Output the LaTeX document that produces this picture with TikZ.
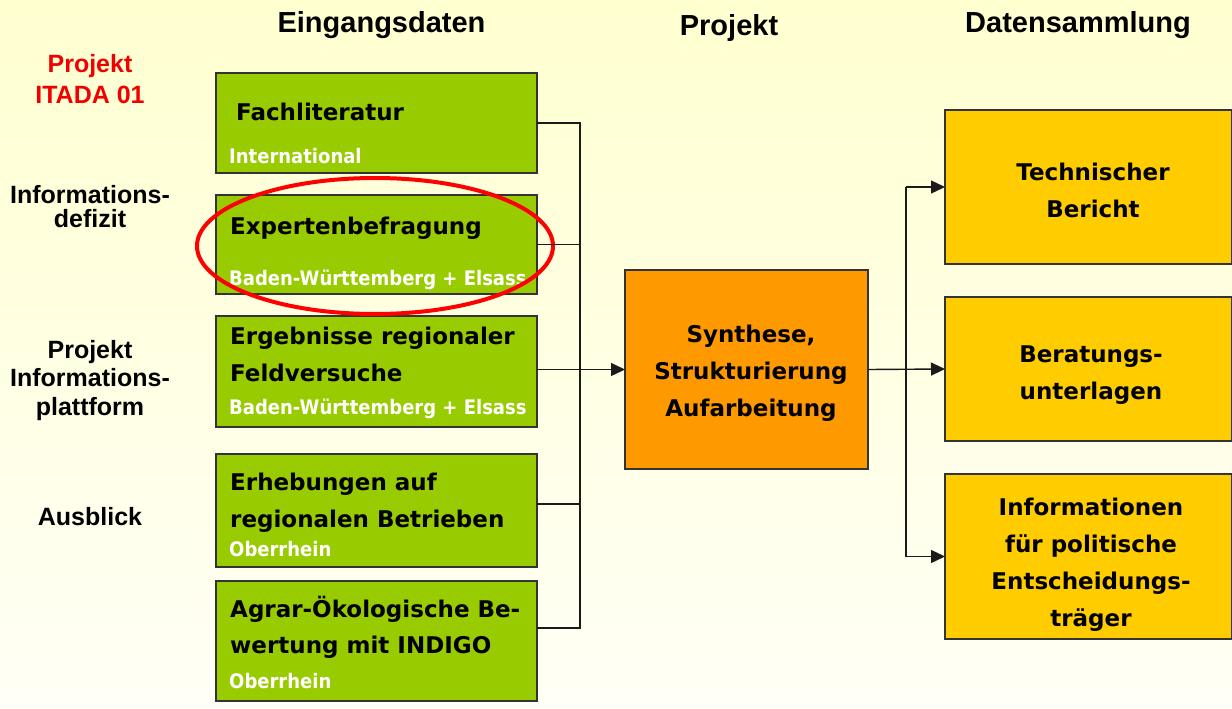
\documentclass[tikz,border=0pt]{standalone}
\usepackage{fontspec}
\setmainfont{Liberation Sans}
\newfontfamily\vfont{DejaVu Sans}
\newfontfamily\vsubfont{DejaVu Sans}[FakeStretch=0.9]
\usetikzlibrary{arrows.meta,calc}
\definecolor{bgtop}{HTML}{FFFFD0}
\definecolor{bgbot}{HTML}{FFFFF6}
\definecolor{gfill}{HTML}{99CC00}
\definecolor{ofill}{HTML}{FF9900}
\definecolor{yfill}{HTML}{FFCC00}
\definecolor{edge}{HTML}{333333}
\definecolor{wire}{HTML}{1A1A1A}
\definecolor{itred}{HTML}{F20000}
\begin{document}
\begin{tikzpicture}[x=1pt,y=-1pt,
  box/.style={draw=edge, line width=1.5pt, inner sep=0pt, outer sep=0pt},
  gbox/.style={box, fill=gfill, minimum width=321pt},
  ybox/.style={box, fill=yfill, minimum width=287pt},
  obox/.style={box, fill=ofill, minimum width=243pt, minimum height=199pt},
  maintxt/.style={inner sep=0pt, font=\vfont\bfseries\fontsize{23}{37}\selectfont},
  gtxt/.style={maintxt, anchor=base west},
  subtxt/.style={inner sep=0pt, anchor=base west, text=white, font=\vsubfont\bfseries\fontsize{20}{24}\selectfont},
  ctxt/.style={maintxt, align=center},
  head/.style={inner sep=0pt, anchor=base, font=\bfseries\fontsize{29}{34}\selectfont},
  side/.style={inner sep=0pt, anchor=base, font=\bfseries\fontsize{25}{28}\selectfont},
  conn/.style={draw=wire, line width=1.4pt},
  arr/.style={conn, -{Triangle[length=14pt,width=13pt]}}
]
\useasboundingbox (0,0) rectangle (1232,709);
\shade[top color=bgtop, bottom color=bgbot] (0,0) rectangle (1232,709);

% headers
\node[head] (h1) at (381.5,33) {Eingangsdaten};
\node[head] (h2) at (729,36) {Projekt};
\node[head] (h3) at (1078,33) {Datensammlung};

% side labels
\node[side, text=itred] (s1a) at (90,73) {Projekt};
\node[side, text=itred] (s1b) at (90,103) {ITADA 01};
\node[side] (s2a) at (90,203) {Informations-};
\node[side] (s2b) at (90,227) {defizit};
\node[side] (s3a) at (90,358) {Projekt};
\node[side] (s3b) at (90,386) {Informations-};
\node[side] (s3c) at (90,415) {plattform};
\node[side] (s4a) at (90,525) {Ausblick};

% green boxes
\node[gbox, minimum height=100pt] (g1) at (376.5,123) {};
\node[gbox, minimum height=99pt] (g2) at (376.5,244.5) {};
\node[gbox, minimum height=111pt] (g3) at (376.5,371.5) {};
\node[gbox, minimum height=113pt] (g4) at (376.5,510.5) {};
\node[gbox, minimum height=120pt] (g5) at (376.5,641) {};

\node[gtxt] (g1t) at (236,120) {Fachliteratur};
\node[subtxt] (g1s) at (229,163) {International};
\node[gtxt] (g2t) at (230,234) {Expertenbefragung};
\node[subtxt] (g2s) at (229,285) {Baden-Württemberg + Elsass};
\node[gtxt] (g3t) at (230,344) {Ergebnisse regionaler};
\node[gtxt] (g3u) at (230,381) {Feldversuche};
\node[subtxt] (g3s) at (229,414) {Baden-Württemberg + Elsass};
\node[gtxt] (g4t) at (230,490) {Erhebungen auf};
\node[gtxt] (g4u) at (230,527) {regionalen Betrieben};
\node[subtxt] (g4s) at (229,556) {Oberrhein};
\node[gtxt] (g5t) at (230,617) {Agrar-Ökologische Be-};
\node[gtxt] (g5u) at (230,653) {wertung mit INDIGO};
\node[subtxt] (g5s) at (229,688) {Oberrhein};

% red ellipse
\draw[red, line width=4pt] (375,246) ellipse [x radius=178, y radius=68];

% synthesis box
\node[obox] (syn) at (746.5,369.5) {};
\node[ctxt] (synt) at (751,373.5) {Synthese,\\Strukturierung\\Aufarbeitung};

% yellow boxes
\node[ybox, minimum height=154pt] (y1) at (1088.5,187) {};
\node[ybox, minimum height=144pt] (y2) at (1088.5,369) {};
\node[ybox, minimum height=165pt] (y3) at (1088.5,556.5) {};
\node[ctxt] (y1t) at (1093,190.5) {Technischer\\Bericht};
\node[ctxt] (y2t) at (1091,375.5) {Beratungs-\\unterlagen};
\node[ctxt] (y3t) at (1091,565) {Informationen\\für politische\\Entscheidungs-\\träger};

% left bus
\coordinate (bt) at (580,123);
\coordinate (bb) at (580,628);
\coordinate (b4) at (580,504);
\draw[conn] (g1.east) -- (bt) -- (bb) -- (bb -| g5.east);
\draw[conn] (g2.east) -- (g2.east -| bt);
\draw[conn] (b4 -| g4.east) -- (b4);
\draw[arr] (g3.east |- syn.west) -- (syn.west);

% right bus
\coordinate (rt) at (906,187);
\coordinate (rb) at (906,556.5);
\draw[arr] (syn.east) -- (y2.west);
\draw[conn] (rt) -- (rb);
\draw[arr] (rt) -- (y1.west);
\draw[arr] (rb) -- (y3.west);
\end{tikzpicture}
\end{document}
